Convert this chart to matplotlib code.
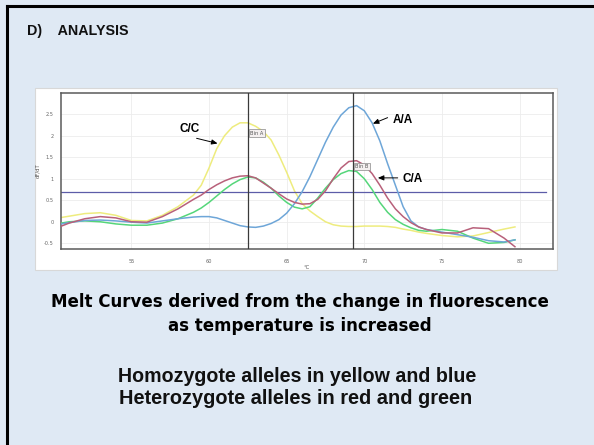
import matplotlib
matplotlib.use("Agg")
import matplotlib.pyplot as plt
from matplotlib.patches import Rectangle
import numpy as np

# ---- data ----
temps = [50.5, 51, 52, 53, 54, 55, 56, 57, 58, 59, 59.5, 60, 60.5, 61, 61.5, 62, 62.5,
         63, 63.5, 64, 64.5, 65, 65.5, 66, 66.5, 67, 67.5, 68, 68.5, 69, 69.5, 70,
         70.5, 71, 71.5, 72, 72.5, 73, 73.5, 74, 75, 76, 77, 78, 79, 79.7]

yellow_cc = [0.10, 0.13, 0.19, 0.21, 0.15, 0.03, 0.02, 0.15, 0.35, 0.62, 0.85, 1.25, 1.70,
             2.00, 2.20, 2.30, 2.30, 2.22, 2.10, 1.90, 1.55, 1.15, 0.72, 0.42, 0.25, 0.12,
             0.00, -0.07, -0.10, -0.11, -0.11, -0.10, -0.10, -0.10, -0.11, -0.13, -0.17,
             -0.20, -0.24, -0.27, -0.32, -0.35, -0.33, -0.25, -0.17, -0.12]

red_ca = [-0.10, -0.03, 0.07, 0.12, 0.09, 0.00, -0.01, 0.12, 0.30, 0.52, 0.62, 0.75, 0.86,
          0.95, 1.02, 1.06, 1.07, 1.02, 0.90, 0.78, 0.65, 0.53, 0.45, 0.41, 0.42, 0.52,
          0.72, 1.00, 1.25, 1.40, 1.42, 1.32, 1.12, 0.85, 0.55, 0.30, 0.12, -0.02, -0.12,
          -0.18, -0.26, -0.26, -0.14, -0.16, -0.38, -0.58]

green_ca = [-0.03, 0.00, 0.02, 0.00, -0.05, -0.08, -0.08, -0.03, 0.07, 0.22, 0.32, 0.45,
            0.60, 0.75, 0.88, 0.98, 1.04, 1.02, 0.92, 0.78, 0.60, 0.45, 0.34, 0.30, 0.35,
            0.55, 0.78, 0.98, 1.12, 1.19, 1.17, 1.00, 0.75, 0.45, 0.22, 0.05, -0.06, -0.14,
            -0.20, -0.22, -0.18, -0.22, -0.38, -0.50, -0.48, -0.42]

blue_aa = [-0.05, -0.02, 0.03, 0.04, 0.02, -0.01, -0.03, 0.02, 0.07, 0.11, 0.12, 0.12,
           0.09, 0.03, -0.03, -0.09, -0.12, -0.13, -0.10, -0.04, 0.05, 0.20, 0.42, 0.70,
           1.05, 1.45, 1.85, 2.20, 2.48, 2.65, 2.70, 2.58, 2.30, 1.88, 1.35, 0.85, 0.35,
           0.02, -0.12, -0.18, -0.24, -0.30, -0.36, -0.44, -0.47, -0.42]

threshold = 0.69
bin_a = 62.53
bin_b = 69.3
x_ticks = [55, 60, 65, 70, 75, 80]
y_ticks = [-0.5, 0, 0.5, 1, 1.5, 2, 2.5]
y_tick_labels = ["-0.5", "0", "0.5", "1", "1.5", "2", "2.5"]

W, H = 594, 445
BG = "#dfe9f4"

fig = plt.figure(figsize=(W / 100, H / 100), dpi=100)
fig.patch.set_facecolor(BG)

def fx(px):
    return px / W

def fy(py):
    return 1 - py / H

# slide border (left and top)
fig.add_artist(plt.Line2D([fx(6.5), fx(6.5)], [fy(5.5), 0], color="black", lw=2.2,
                          transform=fig.transFigure))
fig.add_artist(plt.Line2D([fx(6.5), 1], [fy(5.5), fy(5.5)], color="black", lw=2.2,
                          transform=fig.transFigure))

# white chart panel
fig.add_artist(Rectangle((fx(35), fy(270)), fx(557) - fx(35), fy(88.3) - fy(270),
                         transform=fig.transFigure, facecolor="white",
                         edgecolor="#d8d8d8", lw=0.8, zorder=0))

ax = fig.add_axes([fx(60.7), fy(249.3), fx(553) - fx(60.7), fy(92.7) - fy(249.3)])
ax.set_facecolor("white")
ax.set_xlim(50.45, 82.15)
ax.set_ylim(-0.64, 3.0)

ax.set_xticks(x_ticks)
ax.set_yticks(y_ticks)
ax.set_yticklabels(y_tick_labels)
ax.tick_params(axis="both", length=0, labelsize=3.6, colors="#666666", pad=5)
ax.tick_params(axis="x", pad=7)
ax.grid(True, color="#ececec", lw=0.6)
ax.set_axisbelow(True)
for s in ax.spines.values():
    s.set_color("#5a5a5a")
    s.set_linewidth(1.1)

ax.set_xlabel("°C", fontsize=3.8, color="#555555", labelpad=1)
ax.set_ylabel("dF/dT", fontsize=3.8, color="#555555", labelpad=3)

lw = 1.1
ax.plot(temps, green_ca, color="#55d67a", lw=lw, zorder=3)
ax.plot(temps, red_ca, color="#b8607a", lw=lw, zorder=4)
ax.plot(temps, blue_aa, color="#6ea6d8", lw=lw, zorder=3)
ax.plot(temps, yellow_cc, color="#eeec7e", lw=lw, zorder=2)

ax.axhline(threshold, xmin=0, xmax=0.985, color="#5c5ca8", lw=0.9, zorder=2)
ax.axvline(bin_a, color="#3a3a3a", lw=0.9, zorder=5)
ax.axvline(bin_b, color="#3a3a3a", lw=0.9, zorder=5)

box = dict(boxstyle="square,pad=0.25", facecolor="#f4f0f0", edgecolor="#888888", lw=0.5)
ax.text(bin_a + 0.12, 2.06, "Bin A", fontsize=3.6, color="#555555", ha="left",
        va="center", bbox=box, zorder=6)
ax.text(bin_b + 0.12, 1.29, "Bin B", fontsize=3.6, color="#555555", ha="left",
        va="center", bbox=box, zorder=6)

# genotype annotations
ann_font = dict(fontsize=8.5, fontweight="bold", family="Liberation Sans", color="black")
ax.text(58.74, 2.16, "C/C", ha="center", va="center", zorder=7, **ann_font)
ax.annotate("", xy=(60.55, 1.82), xytext=(59.2, 1.94),
            arrowprops=dict(arrowstyle="-|>,head_length=0.35,head_width=0.15",
                            color="black", lw=0.7, shrinkA=0, shrinkB=0), zorder=7)
ax.text(72.45, 2.36, "A/A", ha="center", va="center", zorder=7, **ann_font)
ax.annotate("", xy=(70.55, 2.28), xytext=(71.5, 2.42),
            arrowprops=dict(arrowstyle="-|>,head_length=0.35,head_width=0.15",
                            color="black", lw=0.7, shrinkA=0, shrinkB=0), zorder=7)
ax.text(73.1, 1.0, "C/A", ha="center", va="center", zorder=7, **ann_font)
ax.annotate("", xy=(70.87, 1.02), xytext=(72.15, 1.02),
            arrowprops=dict(arrowstyle="-|>,head_length=0.35,head_width=0.15",
                            color="black", lw=0.7, shrinkA=0, shrinkB=0), zorder=7)

# slide texts
fig.text(fx(27), fy(31.5), "D)    ANALYSIS", fontsize=10.3, fontweight="bold",
         family="Liberation Sans", ha="left", va="center", color="#111111")
fig.text(fx(300), fy(302), "Melt Curves derived from the change in fluorescence",
         fontsize=11.95, fontweight="bold", family="DejaVu Sans", ha="center",
         va="center", color="black")
fig.text(fx(300), fy(326), "as temperature is increased",
         fontsize=11.95, fontweight="bold", family="DejaVu Sans", ha="center",
         va="center", color="black")
fig.text(fx(297), fy(376), "Homozygote alleles in yellow and blue",
         fontsize=14.1, fontweight="bold", family="Liberation Sans", ha="center",
         va="center", color="#111111")
fig.text(fx(295.5), fy(399), "Heterozygote alleles in red and green",
         fontsize=14.4, fontweight="bold", family="Liberation Sans", ha="center",
         va="center", color="#111111")

fig.savefig("out.png", dpi=100, facecolor=BG)
